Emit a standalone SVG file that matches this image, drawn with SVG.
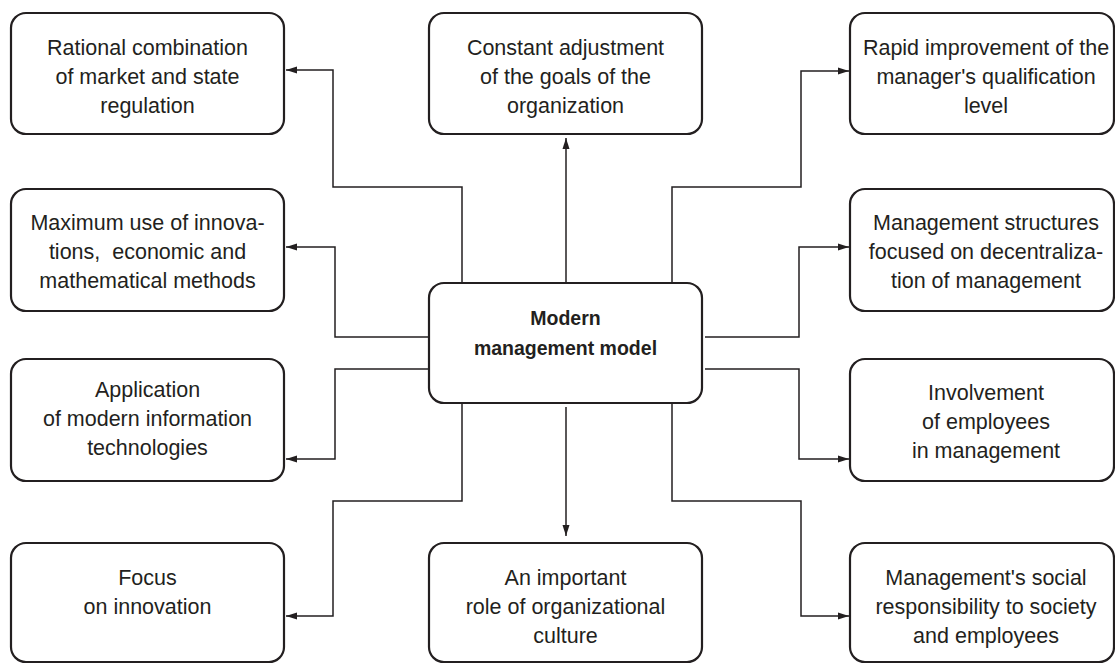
<svg xmlns="http://www.w3.org/2000/svg" width="1115" height="664" viewBox="0 0 1115 664">
<style>
.box{fill:#fff;stroke:#231f20;stroke-width:2.2}
.t{font-family:"Liberation Sans",Arial,sans-serif;font-size:21.5px;fill:#231f20;text-anchor:middle}
.b{font-family:"Liberation Sans",Arial,sans-serif;font-size:19.5px;font-weight:bold;fill:#231f20;text-anchor:middle}
.c{fill:none;stroke:#231f20;stroke-width:1.5;marker-end:url(#ah)}
</style>
<defs>
<marker id="ah" markerUnits="userSpaceOnUse" markerWidth="12" markerHeight="8" refX="11" refY="4" orient="auto">
<path d="M0,0.5 L11,4 L0,7.5 Z" fill="#231f20"/>
</marker>
</defs>
<rect width="1115" height="664" fill="#fff"/>
<g id="connectors">
<path class="c" d="M566,283 V138"/>
<path class="c" d="M462,283 V187 H333 V70 H286"/>
<path class="c" d="M429,337 H335 V247 H286"/>
<path class="c" d="M429,369 H335 V459 H286"/>
<path class="c" d="M462,403 V501 H333 V616 H286"/>
<path class="c" d="M566,407 V536"/>
<path class="c" d="M672,283 V187 H801 V71 H849"/>
<path class="c" d="M705,337 H799 V247 H849"/>
<path class="c" d="M705,369 H799 V459 H849"/>
<path class="c" d="M672,403 V501 H801 V616 H849"/>
</g>
<g id="n-rational"><rect class="box" x="11" y="13" width="273" height="121" rx="15"/>
<text class="t" x="147.5" y="55">Rational combination</text><text class="t" x="147.5" y="84">of market and state</text><text class="t" x="147.5" y="113">regulation</text></g>
<g id="n-maximum"><rect class="box" x="11" y="189" width="273" height="122" rx="15"/>
<text class="t" x="147.5" y="230">Maximum use of innova-</text><text class="t" x="147.5" y="259" xml:space="preserve">tions,  economic and</text><text class="t" x="147.5" y="288">mathematical methods</text></g>
<g id="n-application"><rect class="box" x="11" y="359" width="273" height="122" rx="15"/>
<text class="t" x="147.5" y="397">Application</text><text class="t" x="147.5" y="426">of modern information</text><text class="t" x="147.5" y="455">technologies</text></g>
<g id="n-focus"><rect class="box" x="11" y="543" width="273" height="119" rx="15"/>
<text class="t" x="147.5" y="585">Focus</text><text class="t" x="147.5" y="614">on innovation</text></g>
<g id="n-constant"><rect class="box" x="429" y="13" width="273" height="121" rx="15"/>
<text class="t" x="565.5" y="55">Constant adjustment</text><text class="t" x="565.5" y="84">of the goals of the</text><text class="t" x="565.5" y="113">organization</text></g>
<g id="n-center"><rect class="box" x="429" y="283" width="273" height="120" rx="15"/>
<text class="b" x="565.5" y="325">Modern</text><text class="b" x="565.5" y="355">management model</text></g>
<g id="n-culture"><rect class="box" x="429" y="543" width="273" height="119" rx="15"/>
<text class="t" x="565.5" y="585">An important</text><text class="t" x="565.5" y="614">role of organizational</text><text class="t" x="565.5" y="643">culture</text></g>
<g id="n-rapid"><rect class="box" x="850" y="13" width="264" height="121" rx="15"/>
<text class="t" x="986" y="55">Rapid improvement of the</text><text class="t" x="986" y="84">manager's qualification</text><text class="t" x="986" y="113">level</text></g>
<g id="n-structures"><rect class="box" x="850" y="189" width="264" height="122" rx="15"/>
<text class="t" x="986" y="230">Management structures</text><text class="t" x="986" y="259">focused on decentraliza-</text><text class="t" x="986" y="288">tion of management</text></g>
<g id="n-involvement"><rect class="box" x="850" y="359" width="264" height="122" rx="15"/>
<text class="t" x="986" y="400">Involvement</text><text class="t" x="986" y="429">of employees</text><text class="t" x="986" y="458">in management</text></g>
<g id="n-social"><rect class="box" x="850" y="543" width="264" height="119" rx="15"/>
<text class="t" x="986" y="585">Management's social</text><text class="t" x="986" y="614">responsibility to society</text><text class="t" x="986" y="643">and employees</text></g>
</svg>
